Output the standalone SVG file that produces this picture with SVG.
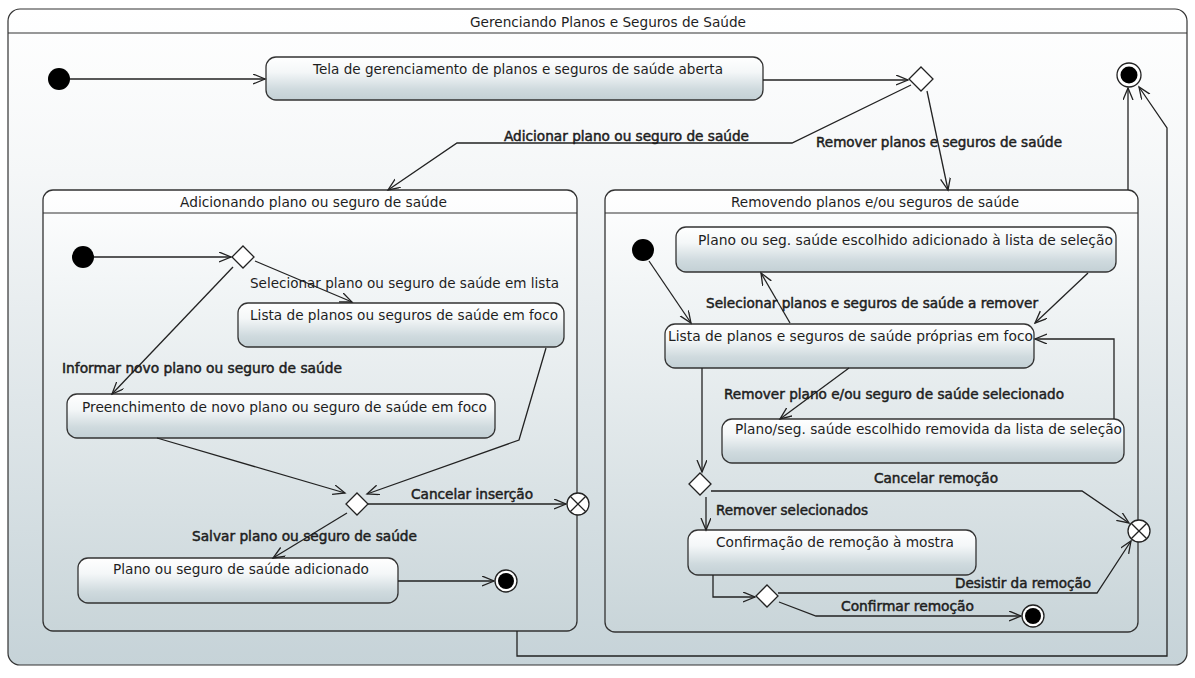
<svg xmlns="http://www.w3.org/2000/svg" width="1195" height="678" viewBox="0 0 1195 678">
  <defs>
    <linearGradient id="frameFill" x1="0" y1="0" x2="0" y2="1">
      <stop offset="0" stop-color="#ffffff"/>
      <stop offset="0.25" stop-color="#f5f7f8"/>
      <stop offset="1" stop-color="#c6d3d8"/>
    </linearGradient>
    <linearGradient id="compFill" x1="0" y1="0" x2="0" y2="1">
      <stop offset="0" stop-color="#ffffff"/>
      <stop offset="0.2" stop-color="#f3f6f7"/>
      <stop offset="1" stop-color="#c9d5d9"/>
    </linearGradient>
    <linearGradient id="stateFill" x1="0" y1="0" x2="0" y2="1">
      <stop offset="0" stop-color="#ffffff"/>
      <stop offset="0.35" stop-color="#f4f7f8"/>
      <stop offset="0.75" stop-color="#cfdade"/>
      <stop offset="1" stop-color="#c3d0d5"/>
    </linearGradient>
    <marker id="arrow" markerUnits="userSpaceOnUse" markerWidth="14" markerHeight="12" refX="12" refY="5" orient="auto">
      <path d="M0,0 L12,5 L0,10" fill="none" stroke="#222" stroke-width="1.3"/>
    </marker>
  </defs>
  <style>
    .frame { fill: url(#frameFill); stroke: #333; stroke-width: 1.2; }
    .comp { fill: url(#compFill); stroke: #333; stroke-width: 1.3; }
    .state { fill: url(#stateFill); stroke: #333; stroke-width: 1.3; }
    .sep { stroke: #333; stroke-width: 1.2; }
    .init { fill: #000; }
    .finOuter { fill: #fff; stroke: #222; stroke-width: 1.3; }
    .finInner { fill: #000; }
    .dec { fill: #fff; stroke: #222; stroke-width: 1.3; }
    .exit { fill: #fff; stroke: #222; stroke-width: 1.3; }
    .xmark { stroke: #222; stroke-width: 1.3; }
    .edge { fill: none; stroke: #222; stroke-width: 1.3; marker-end: url(#arrow); }
    text { font-family: "DejaVu Sans", "Liberation Sans", sans-serif; font-size: 13.5px; fill: #1e1e1e; }
    .lbl { stroke: #1e1e1e; stroke-width: 0.5; }
  </style>

  <!-- outer state machine frame -->
  <g id="frame">
    <rect class="frame" x="8" y="9" width="1179" height="656" rx="12"/>
    <line class="sep" x1="8" y1="33" x2="1187" y2="33"/>
    <text x="470" y="27" textLength="276" lengthAdjust="spacingAndGlyphs">Gerenciando Planos e Seguros de Saúde</text>
  </g>

  <!-- top level nodes -->
  <g id="start">
    <circle class="init" cx="59" cy="79" r="11"/>
  </g>
  <g id="telaAberta">
    <rect class="state" x="266" y="57" width="497" height="43" rx="10"/>
    <text x="313" y="74" textLength="410" lengthAdjust="spacingAndGlyphs">Tela de gerenciamento de planos e seguros de saúde aberta</text>
  </g>
  <g id="decisaoPrincipal">
    <polygon class="dec" points="921,67 933,79 921,91 909,79"/>
  </g>
  <g id="fim">
    <circle class="finOuter" cx="1129" cy="75" r="12"/>
    <circle class="finInner" cx="1129" cy="75" r="8.5"/>
  </g>

  <!-- composite: adding -->
  <g id="adicionando">
    <rect class="comp" x="43" y="190" width="534" height="441" rx="10"/>
    <line class="sep" x1="43" y1="213" x2="577" y2="213"/>
    <text x="180" y="207" textLength="267" lengthAdjust="spacingAndGlyphs">Adicionando plano ou seguro de saúde</text>
  </g>
  <g id="addStart">
    <circle class="init" cx="83" cy="257" r="11"/>
  </g>
  <g id="addDecisao">
    <polygon class="dec" points="243,246 254,257 243,268 232,257"/>
  </g>
  <g id="listaFoco">
    <rect class="state" x="238" y="303" width="326" height="44" rx="10"/>
    <text x="250" y="320" textLength="308" lengthAdjust="spacingAndGlyphs">Lista de planos ou seguros de saúde em foco</text>
  </g>
  <g id="preenchimento">
    <rect class="state" x="67" y="394" width="428" height="44" rx="10"/>
    <text x="82" y="412" textLength="405" lengthAdjust="spacingAndGlyphs">Preenchimento de novo plano ou seguro de saúde em foco</text>
  </g>
  <g id="addJuncao">
    <polygon class="dec" points="357,493 368,504 357,515 346,504"/>
  </g>
  <g id="addSaida">
    <circle class="exit" cx="578" cy="504" r="11"/>
    <line class="xmark" x1="570.2" y1="496.2" x2="585.8" y2="511.8"/>
    <line class="xmark" x1="585.8" y1="496.2" x2="570.2" y2="511.8"/>
  </g>
  <g id="adicionado">
    <rect class="state" x="78" y="558" width="320" height="45" rx="10"/>
    <text x="113" y="574" textLength="256" lengthAdjust="spacingAndGlyphs">Plano ou seguro de saúde adicionado</text>
  </g>
  <g id="addFim">
    <circle class="finOuter" cx="506" cy="581" r="11"/>
    <circle class="finInner" cx="506" cy="581" r="8"/>
  </g>

  <!-- composite: removing -->
  <g id="removendo">
    <rect class="comp" x="605" y="190" width="533" height="442" rx="10"/>
    <line class="sep" x1="605" y1="213" x2="1138" y2="213"/>
    <text x="731" y="207" textLength="288" lengthAdjust="spacingAndGlyphs">Removendo planos e/ou seguros de saúde</text>
  </g>
  <g id="remStart">
    <circle class="init" cx="643" cy="250" r="11"/>
  </g>
  <g id="escolhidoAdicionado">
    <rect class="state" x="676" y="227" width="440" height="45" rx="10"/>
    <text x="698" y="245" textLength="415" lengthAdjust="spacingAndGlyphs">Plano ou seg. saúde escolhido adicionado à lista de seleção</text>
  </g>
  <g id="listaProprias">
    <rect class="state" x="665" y="324" width="369" height="44" rx="10"/>
    <text x="668" y="341" textLength="365" lengthAdjust="spacingAndGlyphs">Lista de planos e seguros de saúde próprias em foco</text>
  </g>
  <g id="escolhidoRemovido">
    <rect class="state" x="722" y="419" width="402" height="44" rx="10"/>
    <text x="735" y="434" textLength="387" lengthAdjust="spacingAndGlyphs">Plano/seg. saúde escolhido removida da lista de seleção</text>
  </g>
  <g id="remDecisao">
    <polygon class="dec" points="700,473 711,484 700,495 689,484"/>
  </g>
  <g id="confirmacao">
    <rect class="state" x="688" y="530" width="288" height="45" rx="10"/>
    <text x="716" y="547" textLength="238" lengthAdjust="spacingAndGlyphs">Confirmação de remoção à mostra</text>
  </g>
  <g id="confDecisao">
    <polygon class="dec" points="767,585 778,596 767,607 756,596"/>
  </g>
  <g id="remSaida">
    <circle class="exit" cx="1139" cy="531" r="11"/>
    <line class="xmark" x1="1131.2" y1="523.2" x2="1146.8" y2="538.8"/>
    <line class="xmark" x1="1146.8" y1="523.2" x2="1131.2" y2="538.8"/>
  </g>
  <g id="remFim">
    <circle class="finOuter" cx="1033" cy="616" r="11"/>
    <circle class="finInner" cx="1033" cy="616" r="8"/>
  </g>

  <!-- transitions -->
  <g id="connectors">
    <polyline class="edge" points="70,79 265,79"/>
    <polyline class="edge" points="763,80 908,80"/>
    <polyline class="edge" points="911,85 792,143 457,143 388,190"/>
    <polyline class="edge" points="927,91 948,190"/>
    <polyline class="edge" points="1128,190 1128,88"/>
    <polyline class="edge" points="517,631 517,656 1167,656 1167,128 1139,87"/>

    <polyline class="edge" points="94,257 231,257"/>
    <polyline class="edge" points="255,261 352,302"/>
    <polyline class="edge" points="233,267 112,394"/>
    <polyline class="edge" points="157,438 345,493"/>
    <polyline class="edge" points="546,348 519,440 367,494"/>
    <polyline class="edge" points="368,504 566,504"/>
    <polyline class="edge" points="347,513 273,558"/>
    <polyline class="edge" points="398,581 494,581"/>

    <polyline class="edge" points="649,261 691,323"/>
    <polyline class="edge" points="790,323 761,273"/>
    <polyline class="edge" points="1088,273 1035,323"/>
    <polyline class="edge" points="849,368 780,419"/>
    <polyline class="edge" points="1114,419 1114,339 1035,339"/>
    <polyline class="edge" points="702,368 702,472"/>
    <polyline class="edge" points="711,491 1082,491 1129,523"/>
    <polyline class="edge" points="706,497 706,530"/>
    <polyline class="edge" points="713,575 713,597 755,597"/>
    <polyline class="edge" points="778,593 1097,593 1131,541"/>
    <polyline class="edge" points="779,602 816,616 1021,616"/>
  </g>

  <!-- transition labels -->
  <g id="labels">
    <text class="lbl" x="504" y="141" textLength="245" lengthAdjust="spacingAndGlyphs">Adicionar plano ou seguro de saúde</text>
    <text class="lbl" x="816" y="147" textLength="246" lengthAdjust="spacingAndGlyphs">Remover planos e seguros de saúde</text>
    <text x="250" y="288" textLength="309" lengthAdjust="spacingAndGlyphs">Selecionar plano ou seguro de saúde em lista</text>
    <text class="lbl" x="62" y="373" textLength="280" lengthAdjust="spacingAndGlyphs">Informar novo plano ou seguro de saúde</text>
    <text class="lbl" x="411" y="499" textLength="122" lengthAdjust="spacingAndGlyphs">Cancelar inserção</text>
    <text class="lbl" x="192" y="541" textLength="225" lengthAdjust="spacingAndGlyphs">Salvar plano ou seguro de saúde</text>
    <text class="lbl" x="706" y="308" textLength="332" lengthAdjust="spacingAndGlyphs">Selecionar planos e seguros de saúde a remover</text>
    <text class="lbl" x="724" y="399" textLength="340" lengthAdjust="spacingAndGlyphs">Remover plano e/ou seguro de saúde selecionado</text>
    <text class="lbl" x="874" y="483" textLength="124" lengthAdjust="spacingAndGlyphs">Cancelar remoção</text>
    <text class="lbl" x="716" y="515" textLength="152" lengthAdjust="spacingAndGlyphs">Remover selecionados</text>
    <text class="lbl" x="955" y="588" textLength="136" lengthAdjust="spacingAndGlyphs">Desistir da remoção</text>
    <text class="lbl" x="841" y="611" textLength="133" lengthAdjust="spacingAndGlyphs">Confirmar remoção</text>
  </g>
</svg>
